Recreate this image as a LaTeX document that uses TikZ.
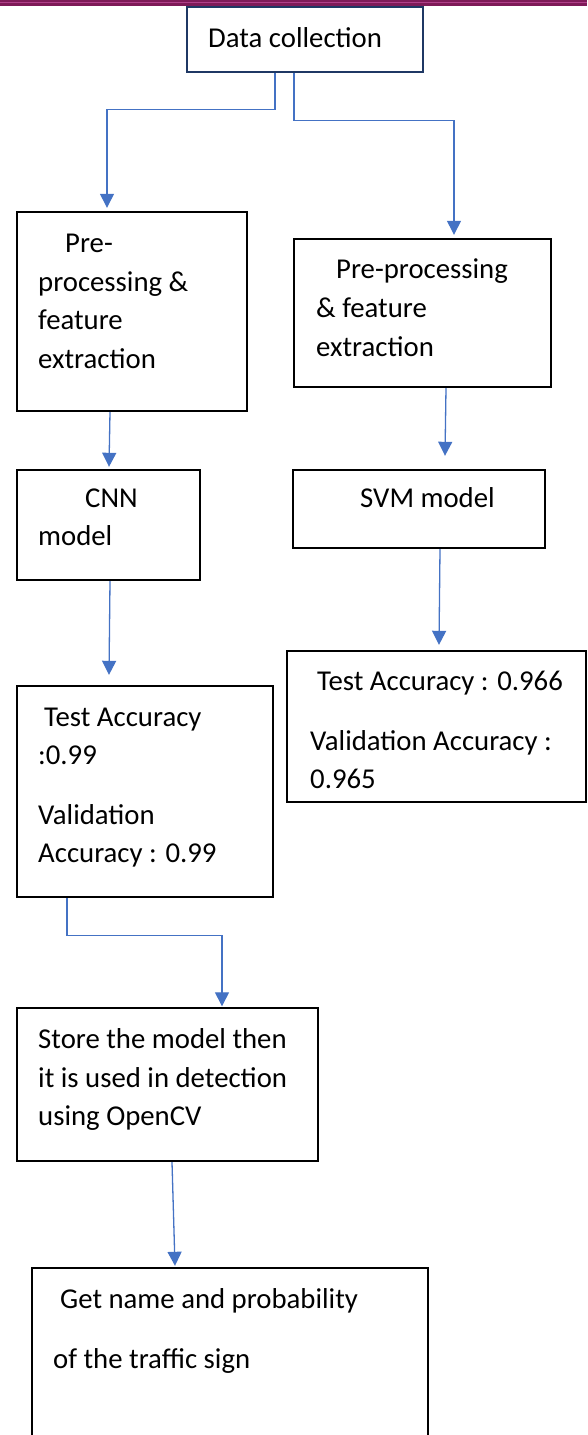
\documentclass[tikz,border=0pt]{standalone}
\usepackage{fontspec}
\setmainfont{Carlito}
\usetikzlibrary{arrows.meta}
\definecolor{conncol}{HTML}{4472C4}
\definecolor{navy}{HTML}{1F3864}
\definecolor{barpurple}{HTML}{7E1A58}
\definecolor{barlight}{HTML}{B0408A}
\begin{document}
\begin{tikzpicture}[x=1pt,y=-1pt,
  box/.style={draw=black,line width=2.4pt,inner sep=0pt},
  txt/.style={anchor=base west,inner sep=0pt,font=\fontsize{28.75}{38.5}\selectfont},
  link/.style={draw=conncol,line width=1.3pt},
  arr/.style={link,-{Triangle[width=14pt,length=14pt]}}]
\useasboundingbox (0,0) rectangle (587,1435);
% top bar
\fill[barpurple] (0,0) rectangle (587,6);
\fill[barlight] (0,2) rectangle (587,3);
% boxes
\node[box,draw=navy,line width=2.8pt,minimum width=236pt,minimum height=65pt] (dc) at (305,39.5) {};
\node[box,minimum width=230pt,minimum height=199pt] (pl) at (132,311.5) {};
\node[box,minimum width=257pt,minimum height=148pt] (pr) at (422.5,313) {};
\node[box,minimum width=183pt,minimum height=110pt] (cnn) at (108.5,525) {};
\node[box,minimum width=252pt,minimum height=78pt] (svm) at (419,509) {};
\node[box,minimum width=256pt,minimum height=211pt] (tl) at (145,791.5) {};
\node[box,minimum width=299pt,minimum height=151pt] (tr) at (436.5,726.5) {};
\node[box,minimum width=301pt,minimum height=153pt] (st) at (167.5,1084.5) {};
\node[box,minimum width=396pt,minimum height=200pt] (bt) at (230,1368) {};
% texts
\node[txt] (dct) at (208,47) {Data collection};
\node[txt] (pl1) at (65,252) {Pre-};
\node[txt] (pl2) at (38,291) {processing \&};
\node[txt] (pl3) at (38,329) {feature};
\node[txt] (pl4) at (38,368) {extraction};
\node[txt] (pr1) at (336,278) {Pre-processing};
\node[txt] (pr2) at (316,317) {\& feature};
\node[txt] (pr3) at (316,356) {extraction};
\node[txt] (cn1) at (85,507) {CNN};
\node[txt] (cn2) at (38,545) {model};
\node[txt] (sv1) at (360,507) {SVM model};
\node[txt] (tl1) at (44,726) {Test Accuracy};
\node[txt] (tl2) at (38,764) {:0.99};
\node[txt] (tl3) at (38,824) {Validation};
\node[txt] (tl4) at (38,862) {Accuracy : 0.99};
\node[txt] (tr1) at (317,690) {Test Accuracy : 0.966};
\node[txt] (tr2) at (310,750) {Validation Accuracy :};
\node[txt] (tr3) at (310,788) {0.965};
\node[txt] (st1) at (38,1048) {Store the model then};
\node[txt] (st2) at (38,1087) {it is used in detection};
\node[txt] (st3) at (38,1125) {using OpenCV};
\node[txt] (bt1) at (60,1308) {Get name and probability};
\node[txt] (bt2) at (53,1368) {of the traffic sign};
% connectors
\draw[arr] ([xshift=-30pt]dc.south) -- ++(0,36) -| ([xshift=-25pt,yshift=3pt]pl.north);
\draw[arr] ([xshift=-11pt]dc.south) -- ++(0,47) -| ([xshift=31.5pt,yshift=3pt]pr.north);
\draw[arr] ([xshift=-22pt]pl.south) -- ([xshift=0.5pt,yshift=2pt]cnn.north);
\draw[arr] ([xshift=23.5pt]pr.south) -- ([xshift=26pt,yshift=13pt]svm.north);
\draw[arr] ([xshift=1.5pt]cnn.south) -- ([xshift=-36pt,yshift=10pt]tl.north);
\draw[arr] ([xshift=21pt]svm.south) -- ([xshift=2.5pt,yshift=5pt]tr.north);
\draw[arr] ([xshift=-78pt]tl.south) -- ++(0,37) -| ([xshift=54.5pt,yshift=0.5pt]st.north);
\draw[arr] ([xshift=4.5pt]st.south) -- ([xshift=-55pt,yshift=1pt]bt.north);
\end{tikzpicture}
\end{document}
